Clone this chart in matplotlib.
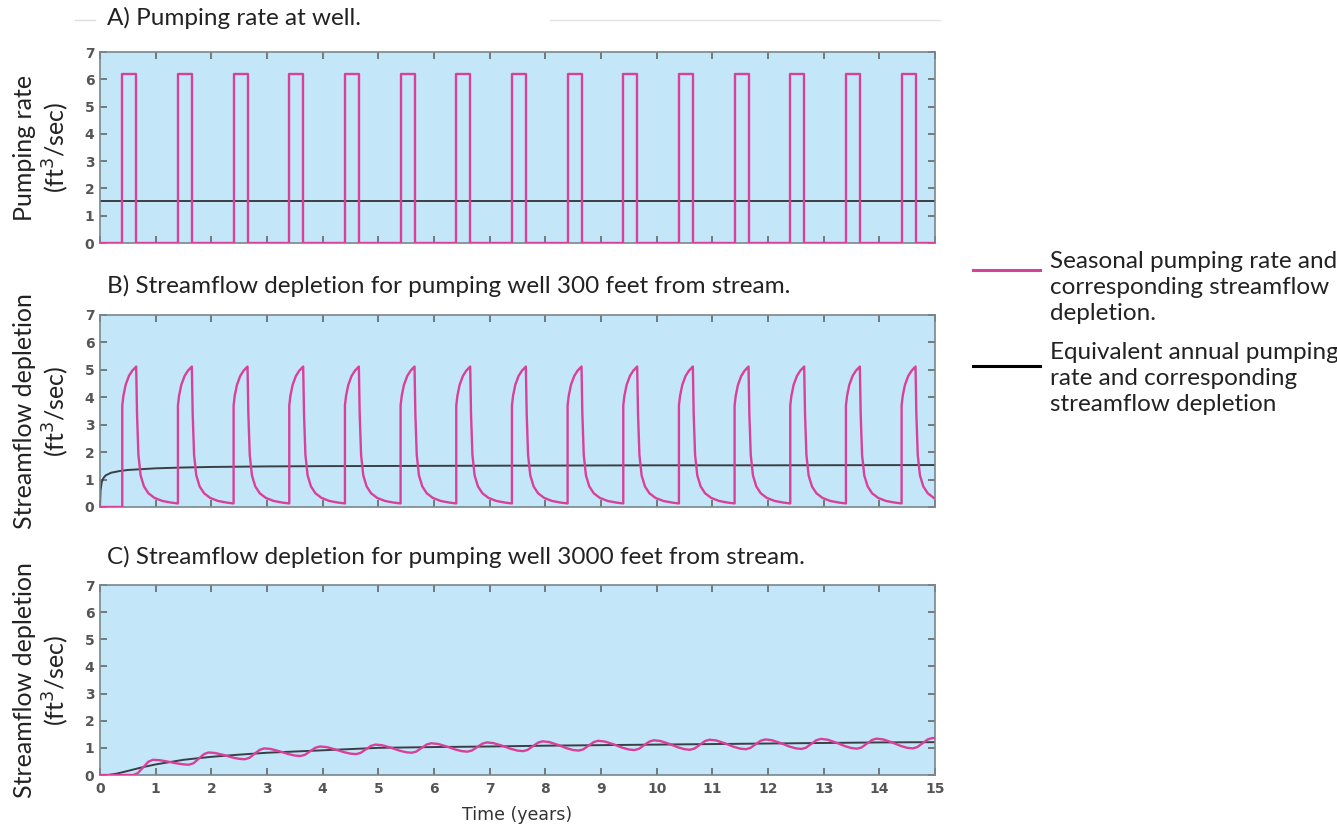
import matplotlib
matplotlib.use("Agg")
import matplotlib.pyplot as plt
from matplotlib.lines import Line2D

# --- data ---
years = list(range(15))
pump_on = [y + 0.40 for y in years]      # start of seasonal pumping each year
pump_off = [y + 0.65 for y in years]     # end of seasonal pumping
pump_rate = 6.2                          # ft3/sec while pumping
annual_rate = 1.55                       # equivalent annual rate

# B) one depletion cycle, time after pump start (years) and depletion
cycle_dt = [0.0, 0.0, 0.02, 0.06, 0.12, 0.18, 0.25, 0.265, 0.29, 0.33, 0.39, 0.47, 0.58, 0.72, 0.88, 1.0]
cycle_q = [0.13, 3.7, 4.05, 4.45, 4.78, 4.97, 5.12, 3.4, 1.9, 1.15, 0.75, 0.50, 0.33, 0.22, 0.16, 0.13]
b_black_t = [0, 0.01, 0.03, 0.06, 0.1, 0.2, 0.35, 0.5, 0.75, 1, 1.5, 2, 3, 4, 6, 8, 10, 12, 15]
b_black_q = [0, 0.6, 0.9, 1.05, 1.15, 1.25, 1.31, 1.35, 1.38, 1.41, 1.44, 1.46, 1.48, 1.49, 1.50, 1.51, 1.52, 1.52, 1.53]

# C) well 3000 ft from stream
c_pink_t = [0, 0.6, 0.68, 0.77, 0.87, 0.95,
            1.07, 1.22, 1.38, 1.5, 1.6, 1.68, 1.77, 1.87, 1.95,
            2.07, 2.22, 2.38, 2.5, 2.6, 2.68, 2.77, 2.87, 2.95,
            3.07, 3.22, 3.38, 3.5, 3.6, 3.68, 3.77, 3.87, 3.95,
            4.07, 4.22, 4.38, 4.5, 4.6, 4.68, 4.77, 4.87, 4.95,
            5.07, 5.22, 5.38, 5.5, 5.6, 5.68, 5.77, 5.87, 5.95,
            6.07, 6.22, 6.38, 6.5, 6.6, 6.68, 6.77, 6.87, 6.95,
            7.07, 7.22, 7.38, 7.5, 7.6, 7.68, 7.77, 7.87, 7.95,
            8.07, 8.22, 8.38, 8.5, 8.6, 8.68, 8.77, 8.87, 8.95,
            9.07, 9.22, 9.38, 9.5, 9.6, 9.68, 9.77, 9.87, 9.95,
            10.07, 10.22, 10.38, 10.5, 10.6, 10.68, 10.77, 10.87, 10.95,
            11.07, 11.22, 11.38, 11.5, 11.6, 11.68, 11.77, 11.87, 11.95,
            12.07, 12.22, 12.38, 12.5, 12.6, 12.68, 12.77, 12.87, 12.95,
            13.07, 13.22, 13.38, 13.5, 13.6, 13.68, 13.77, 13.87, 13.95,
            14.07, 14.22, 14.38, 14.5, 14.6, 14.68, 14.77, 14.87, 14.95, 15.0]
c_pink_q = [0, 0, 0.07, 0.27, 0.49, 0.56,
            0.546, 0.493, 0.427, 0.391, 0.38, 0.434, 0.596, 0.772, 0.83,
            0.81, 0.738, 0.645, 0.595, 0.58, 0.628, 0.772, 0.928, 0.98,
            0.958, 0.876, 0.773, 0.717, 0.70, 0.742, 0.868, 1.005, 1.05,
            1.028, 0.946, 0.843, 0.787, 0.77, 0.812, 0.938, 1.075, 1.12,
            1.096, 1.009, 0.898, 0.838, 0.82, 0.862, 0.988, 1.125, 1.17,
            1.145, 1.055, 0.941, 0.879, 0.86, 0.901, 1.023, 1.156, 1.20,
            1.174, 1.082, 0.963, 0.899, 0.88, 0.923, 1.053, 1.193, 1.24,
            1.213, 1.114, 0.988, 0.92, 0.90, 0.943, 1.073, 1.213, 1.26,
            1.233, 1.134, 1.008, 0.94, 0.92, 0.963, 1.093, 1.233, 1.28,
            1.252, 1.151, 1.021, 0.951, 0.93, 0.974, 1.108, 1.252, 1.30,
            1.272, 1.171, 1.041, 0.971, 0.95, 0.993, 1.123, 1.263, 1.31,
            1.282, 1.181, 1.051, 0.981, 0.96, 1.004, 1.138, 1.282, 1.33,
            1.301, 1.197, 1.064, 0.992, 0.97, 1.014, 1.148, 1.292, 1.34,
            1.311, 1.207, 1.074, 1.002, 0.98, 1.026, 1.162, 1.311, 1.36, 1.36]
c_black_t = [0, 0.15, 0.3, 0.5, 0.75, 1, 1.5, 2, 2.5, 3, 4, 5, 6, 7, 8, 9, 10, 11, 12, 13, 14, 15]
c_black_q = [0, 0, 0.05, 0.15, 0.28, 0.39, 0.56, 0.67, 0.75, 0.82, 0.91, 1.0, 1.03, 1.05, 1.08, 1.10, 1.12, 1.14, 1.16, 1.18, 1.20, 1.21]

titles = ["A) Pumping rate at well.",
          "B) Streamflow depletion for pumping well 300 feet from stream.",
          "C) Streamflow depletion for pumping well 3000 feet from stream."]
ylabels = ["Pumping rate\n(ft$^3$/sec)", "Streamflow depletion\n(ft$^3$/sec)", "Streamflow depletion\n(ft$^3$/sec)"]

pink = "#d8409a"
dark = "#3a3f44"
bg = "#c4e6f9"
tick_font = ["Liberation Sans Narrow", "DejaVu Sans"]
text_font = ["Lato", "DejaVu Sans"]

# step series for panel A
a_t, a_q = [0.0], [0.0]
for on, off in zip(pump_on, pump_off):
    a_t += [on, on, off, off]
    a_q += [0, pump_rate, pump_rate, 0]
a_t.append(15.0)
a_q.append(0.0)

# panel B seasonal series: the read cycle placed at each pump start
b_t, b_q = [0.0], [0.0]
for i, on in enumerate(pump_on):
    for dt, q in zip(cycle_dt, cycle_q):
        t = on + dt
        if t > 15:
            break
        if i == 0 and dt == 0 and q < 1:
            q = 0.0
        b_t.append(t)
        b_q.append(q)

fig = plt.figure(figsize=(13.37, 8.3), dpi=100)
W, H = 1337, 830
boxes = [(52, 243), (315, 507), (585, 775)]
axes = []
for top, bot in boxes:
    ax = fig.add_axes([100 / W, 1 - bot / H, 835 / W, (bot - top) / H])
    axes.append(ax)

series = [(a_t, a_q, [0, 15], [annual_rate, annual_rate]),
          (b_t, b_q, b_black_t, b_black_q),
          (c_pink_t, c_pink_q, c_black_t, c_black_q)]

for i, ax in enumerate(axes):
    pt, pq, kt, kq = series[i]
    ax.set_facecolor(bg)
    ax.plot(kt, kq, color=dark, lw=1.4, zorder=2)
    ax.plot(pt, pq, color=pink, lw=1.7, zorder=3)
    ax.set_xlim(0, 15)
    ax.set_ylim(0, 7)
    ax.set_xticks(range(16))
    ax.set_yticks(range(8))
    ax.tick_params(direction="in", length=5, width=1.2, color="#666666",
                   top=True, right=True, labelsize=10, labelcolor="#555555")
    ax.tick_params(axis="x", pad=5)
    ax.tick_params(axis="y", pad=4)
    for lab in ax.get_yticklabels() + ax.get_xticklabels():
        lab.set_family(tick_font)
        lab.set_fontweight("bold")
    if i < 2:
        ax.set_xticklabels([])
    for s in ax.spines.values():
        s.set_color("#7a868c")
        s.set_linewidth(1.2)

title_y = [18, 286, 557]
for i in range(3):
    fig.text(107 / W, 1 - title_y[i] / H, titles[i], fontsize=17.5, family=text_font,
             color="#222222", ha="left", va="center")
    top, bot = boxes[i]
    fig.text(42 / W, 1 - (top + bot) / 2 / H, ylabels[i], fontsize=18, family=text_font,
             color="#222222", rotation=90, ha="center", va="center",
             multialignment="center", linespacing=1.2)

# faint separator lines beside the first title
fig.add_artist(Line2D([75 / W, 95 / W], [1 - 20 / H, 1 - 20 / H], color="#dddddd", lw=1))
fig.add_artist(Line2D([550 / W, 940 / W], [1 - 20 / H, 1 - 20 / H], color="#e2e2e2", lw=1))

fig.text(517 / W, 1 - 815 / H, "Time (years)", fontsize=12.5, family=tick_font,
         color="#333333", ha="center", va="center")

# legend on the right
fig.add_artist(Line2D([973 / W, 1040 / W], [1 - 270 / H, 1 - 270 / H], color=pink, lw=2.2))
fig.add_artist(Line2D([973 / W, 1040 / W], [1 - 366 / H, 1 - 366 / H], color="black", lw=2.2))
fig.text(1050 / W, 1 - 251 / H, "Seasonal pumping rate and\ncorresponding streamflow\ndepletion.",
         fontsize=17.5, family=text_font, color="#222222", ha="left", va="top", linespacing=1.3)
fig.text(1050 / W, 1 - 342 / H, "Equivalent annual pumping\nrate and corresponding\nstreamflow depletion",
         fontsize=17.5, family=text_font, color="#222222", ha="left", va="top", linespacing=1.3)

fig.savefig("out.png", dpi=100)
